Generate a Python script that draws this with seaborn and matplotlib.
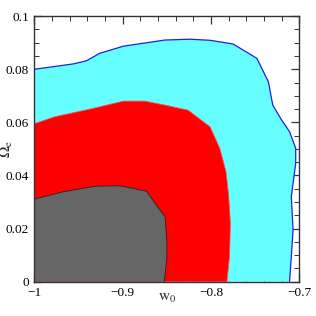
import numpy as np
import seaborn as sns
import matplotlib
matplotlib.use("Agg")
import matplotlib.pyplot as plt
from matplotlib.ticker import MultipleLocator, FuncFormatter

# contour boundaries (w0, Omega_e)
outer_w0 = [-1.0, -0.956, -0.941, -0.926, -0.899, -0.852, -0.824, -0.801, -0.775,
            -0.748, -0.735, -0.730, -0.720, -0.711, -0.704, -0.704, -0.706, -0.709,
            -0.707, -0.709, -0.711]
outer_om = [0.0800, 0.0820, 0.0832, 0.0860, 0.0887, 0.0910, 0.0913, 0.0909, 0.0895,
            0.0841, 0.0753, 0.0665, 0.0609, 0.0565, 0.0502, 0.0446, 0.0395, 0.0320,
            0.0195, 0.0094, 0.0]

mid_w0 = [-1.0, -0.977, -0.937, -0.899, -0.875, -0.852, -0.826, -0.801, -0.790,
          -0.783, -0.780, -0.778, -0.779, -0.782]
mid_om = [0.0595, 0.0621, 0.0650, 0.0680, 0.0680, 0.0665, 0.0646, 0.0583, 0.0502,
          0.0414, 0.0326, 0.0220, 0.0094, 0.0]

inner_w0 = [-1.0, -0.967, -0.930, -0.903, -0.873, -0.862, -0.852, -0.850, -0.850, -0.853]
inner_om = [0.0311, 0.0339, 0.0360, 0.0361, 0.0341, 0.0289, 0.0245, 0.0151, 0.0088, 0.0]

x_ticks = [-1.0, -0.9, -0.8, -0.7]
y_ticks = [0, 0.02, 0.04, 0.06, 0.08, 0.1]

sns.set_style("ticks")
plt.rcParams["font.family"] = ["Liberation Serif", "DejaVu Serif"]
plt.rcParams["mathtext.fontset"] = "stix"

fig = plt.figure(figsize=(3.16, 3.16), dpi=100)
ax = fig.add_axes([0.109, 0.1085, 0.838, 0.8405])


def region(w0, om):
    # close the region against the lower-left corner of the plot
    return [w0[0]] + list(w0) + [w0[0]], [0.0] + list(om) + [0.0]


def edge(w0, om, color, lw):
    sns.lineplot(x=w0, y=om, sort=False, estimator=None, color=color, lw=lw, ax=ax)


xs, ys = region(outer_w0, outer_om)
ax.fill(xs, ys, color="#66ffff", lw=0)
edge(outer_w0, outer_om, "#2020e0", 0.9)

xs, ys = region(mid_w0, mid_om)
ax.fill(xs, ys, color="#ff0000", lw=0)
edge(mid_w0, mid_om, "#ff5050", 0.6)

xs, ys = region(inner_w0, inner_om)
ax.fill(xs, ys, color="#666666", lw=0)
edge(inner_w0, inner_om, "#222222", 0.6)

ax.set_xlim(-1.0, -0.7)
ax.set_ylim(0, 0.1)
ax.set_xticks(x_ticks)
ax.set_yticks(y_ticks)
ax.xaxis.set_minor_locator(MultipleLocator(0.02))
ax.yaxis.set_minor_locator(MultipleLocator(0.005))
fmt = FuncFormatter(lambda v, p: ("%g" % round(v, 3)).replace("-", "\u2212"))
ax.xaxis.set_major_formatter(fmt)
ax.yaxis.set_major_formatter(fmt)
ax.tick_params(which="both", direction="in", top=True, right=True,
               colors="#333333", labelcolor="black", labelsize=9.5)
ax.tick_params(which="major", length=6, width=0.9, pad=4)
ax.tick_params(which="minor", length=3.5, width=0.7)
for s in ax.spines.values():
    s.set_color("#333333")
    s.set_linewidth(1.0)

ax.set_xlabel(r"$\mathrm{w}_0$", fontsize=11)
ax.set_ylabel(r"$\Omega_\mathrm{e}$", fontsize=11)
ax.xaxis.set_label_coords(0.5, -0.04)
ax.yaxis.set_label_coords(-0.075, 0.5)

fig.savefig("out.png", dpi=100)
